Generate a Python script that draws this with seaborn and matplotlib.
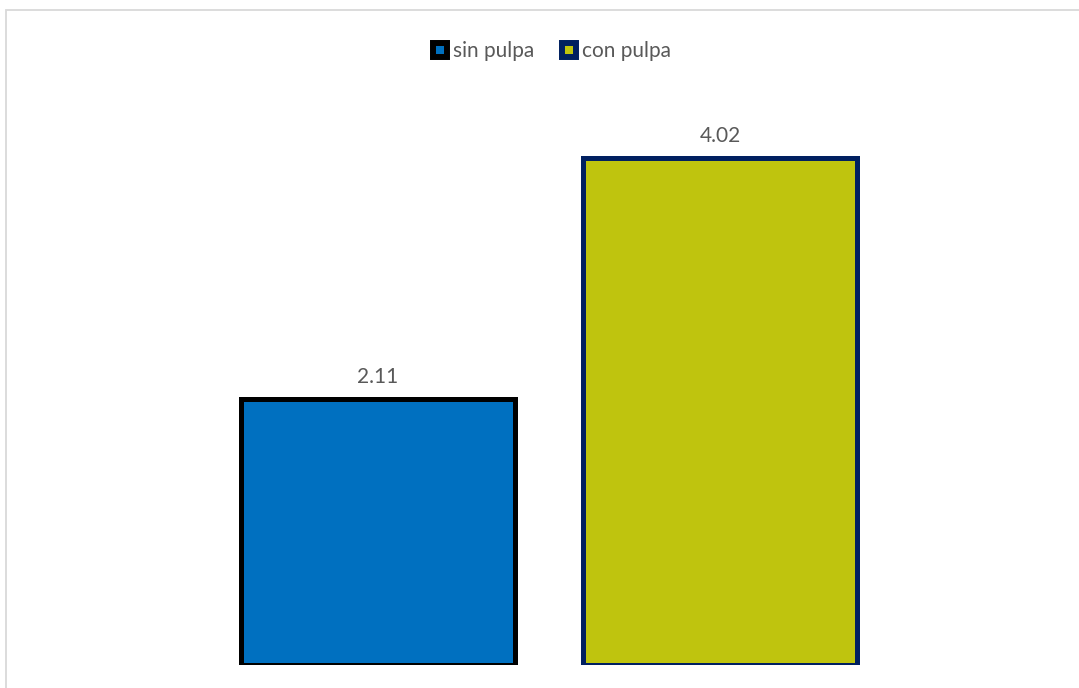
import matplotlib
matplotlib.use("Agg")
import matplotlib.pyplot as plt
from matplotlib.patches import Patch, Rectangle
import seaborn as sns
import pandas as pd

# Data
series = ["sin pulpa", "con pulpa"]
values = [2.11, 4.02]
fill_colors = ["#0070C0", "#BFC40E"]
edge_colors = ["#000000", "#002060"]

df = pd.DataFrame({"serie": series, "valor": values})

sns.set_theme(style="white")
plt.rcParams["font.family"] = ["Lato", "DejaVu Sans"]

W, H = 1079, 688
fig = plt.figure(figsize=(W / 100, H / 100), dpi=100)

# Plot area in pixel coordinates
left_px, right_px = 207, 891.5
bottom_px, top_px = 665, 98
ax = fig.add_axes([left_px / W, 1 - bottom_px / H,
                   (right_px - left_px) / W, (bottom_px - top_px) / H])

sns.barplot(data=df, x="serie", y="valor", hue="serie",
            palette=dict(zip(series, fill_colors)), order=series,
            hue_order=series, width=0.8, legend=False, ax=ax, saturation=1)

for patch, ec in zip(ax.patches, edge_colors):
    patch.set_edgecolor(ec)
    patch.set_linewidth(3.6)

for cont in ax.containers:
    ax.bar_label(cont, fmt="%.2f", padding=9, fontsize=15, color="#595959")

ax.set_xlim(-0.5, 1.5)
ax.set_ylim(0, 4.5)
ax.set_xlabel("")
ax.set_ylabel("")
ax.set_xticks([])
ax.set_yticks([])
for s in ax.spines.values():
    s.set_visible(False)

# Legend
handles = [Patch(facecolor=fc, edgecolor=ec, linewidth=4.3)
           for fc, ec in zip(fill_colors, edge_colors)]
fig.legend(handles, series, loc="center", bbox_to_anchor=(552 / W, 1 - 51 / H),
           ncol=2, frameon=False, fontsize=15, labelcolor="#595959",
           handlelength=0.67, handleheight=0.67, handletextpad=0.3,
           columnspacing=1.3)

# Chart-area border
fig.add_artist(Rectangle((6 / W, -0.1), 1.2, 1.1 - 10 / H,
                         transform=fig.transFigure, fill=False,
                         edgecolor="#D9D9D9", linewidth=1.3))

fig.savefig("out.png", dpi=100, facecolor="white")
